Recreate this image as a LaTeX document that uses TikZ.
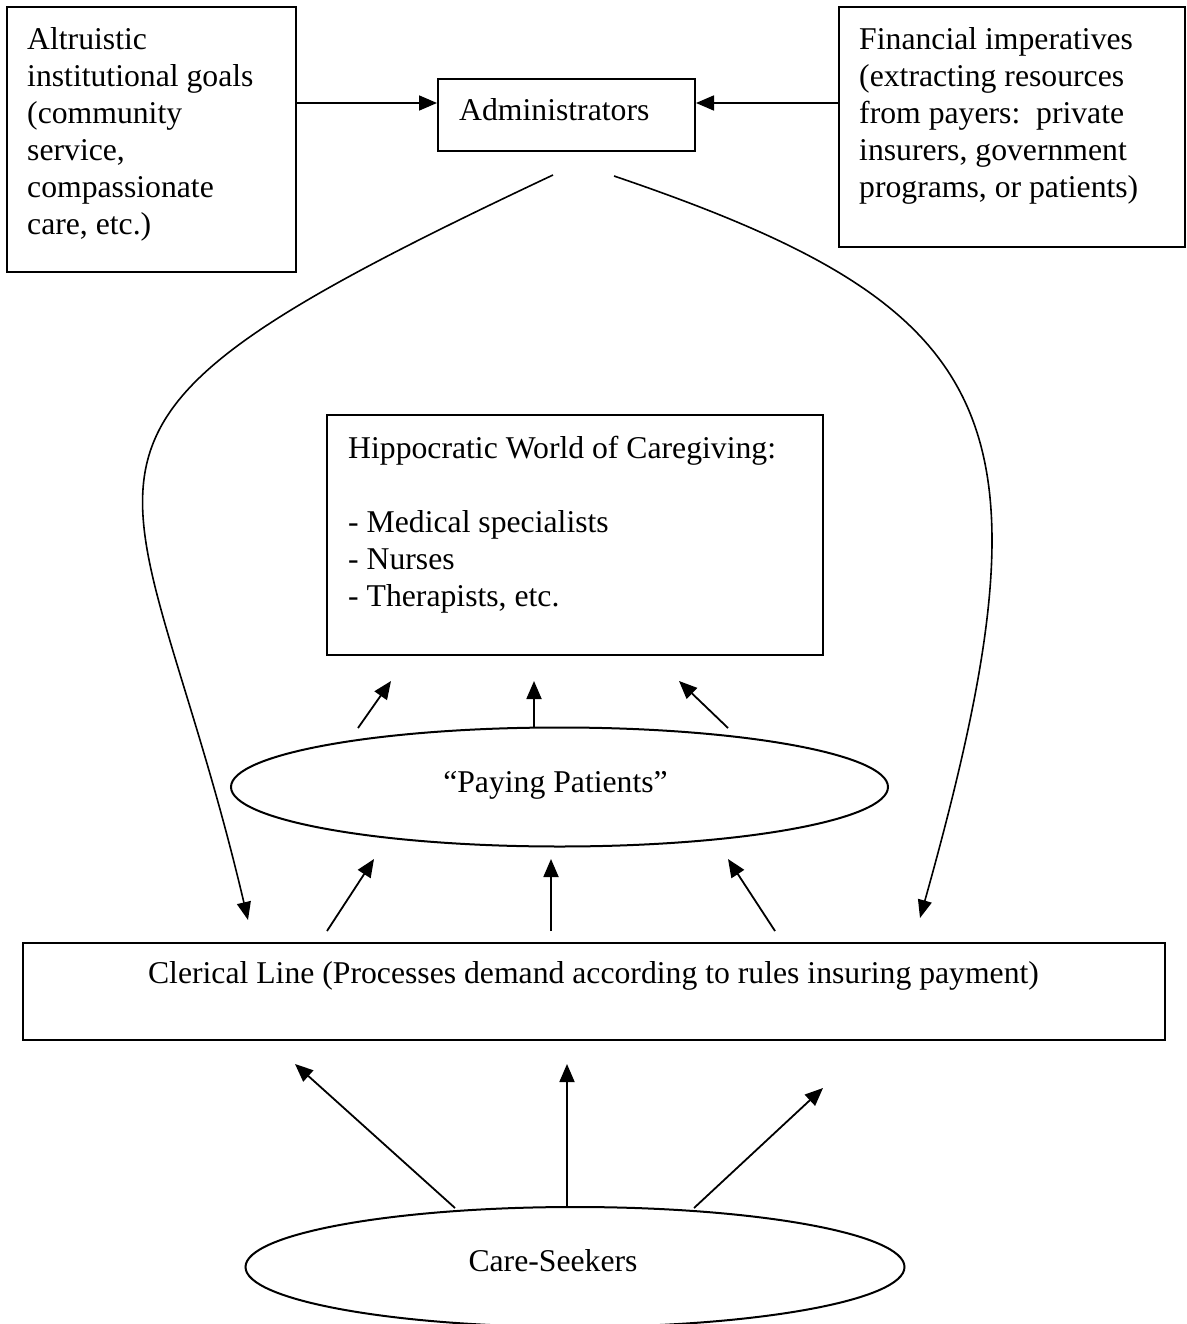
\documentclass[tikz,border=0pt]{standalone}
\usepackage{fontspec}
\setmainfont{Liberation Serif}
\usetikzlibrary{arrows.meta,shapes.geometric}
\newcommand{\diafont}{\fontsize{31.7pt}{37pt}\selectfont}
\begin{document}
\begin{tikzpicture}[x=1pt,y=-1pt,
  boxnode/.style={draw, rectangle, line width=2pt, inner sep=0pt},
  ovalnode/.style={draw, ellipse, line width=2pt, inner sep=0pt},
  lbl/.style={inner sep=0pt, font=\diafont, align=left},
  arr/.style={-{Triangle[length=18pt,width=15pt]}, line width=1.8pt},
  curvearr/.style={-{Triangle[length=18pt,width=14pt]}, line width=1.6pt}]
\useasboundingbox (0,0) rectangle (1186,1324);
\begin{scope}
\clip (0,0) rectangle (1186,1324);
% boxes
\node[boxnode, minimum width=289pt, minimum height=265pt] (alt) at (151.5,139.5) {};
\node[boxnode, minimum width=257pt, minimum height=72pt] (adm) at (566.5,115) {};
\node[boxnode, minimum width=345.5pt, minimum height=240pt] (fin) at (1011.75,127) {};
\node[boxnode, minimum width=496pt, minimum height=240pt] (hip) at (575,535) {};
\node[boxnode, minimum width=1142pt, minimum height=97pt] (cler) at (594,991.5) {};
\node[ovalnode, minimum width=657pt, minimum height=119pt] (pp) at (559.5,787) {};
\node[ovalnode, minimum width=659pt, minimum height=120pt] (cs) at (575,1267) {};
\end{scope}
% texts
\node[lbl, anchor=north west] (altT) at (27,27.3) {Altruistic\\institutional goals\\(community\\service,\\compassionate\\care, etc.)};
\node[lbl, anchor=base west] (admT) at (459,121) {Administrators};
\node[lbl, anchor=north west] (finT) at (859,27.3) {Financial imperatives\\(extracting resources\\from payers:\ \ private\\insurers, government\\programs, or patients)};
\node[lbl, anchor=north west] (hipT) at (348,435.5) {Hippocratic World of Caregiving:\\[37pt]- Medical specialists\\- Nurses\\- Therapists, etc.};
\node[lbl, anchor=base] (clerT) at (593.5,983) {Clerical Line (Processes demand according to rules insuring payment)};
\node[lbl, anchor=base] (ppT) at (555.5,792) {``Paying Patients''};
\node[lbl, anchor=base] (csT) at (553,1271) {Care-Seekers};
% horizontal arrows into Administrators
\coordinate (hA) at (0,103);
\draw[arr] (hA -| alt.east) -- (hA -| adm.west);
\draw[arr] (hA -| fin.west) -- (hA -| adm.east);
% curved arrows from Administrators to Clerical Line
\coordinate (c1a) at (553,175);
\coordinate (c1b) at (248,920);
\coordinate (c2a) at (614,176);
\coordinate (c2b) at (920,918);
\draw[curvearr] (c1a) .. controls (-10,440) and (135,440) .. (c1b);
\draw[curvearr] (c2a) .. controls (1008,310) and (1060,419) .. (c2b);
% Paying Patients -> Hippocratic
\coordinate (p1a) at (358,728); \coordinate (p1b) at (391,681);
\coordinate (p2a) at (534,728); \coordinate (p2b) at (534,681);
\coordinate (p3a) at (728,728); \coordinate (p3b) at (679,681);
\draw[arr] (p1a) -- (p1b);
\draw[arr] (p2a) -- (p2b);
\draw[arr] (p3a) -- (p3b);
% Clerical -> Paying Patients
\coordinate (k1a) at (327,931); \coordinate (k1b) at (374,859);
\coordinate (k2a) at (551,931); \coordinate (k2b) at (551,859);
\coordinate (k3a) at (775,931); \coordinate (k3b) at (728,859);
\draw[arr] (k1a) -- (k1b);
\draw[arr] (k2a) -- (k2b);
\draw[arr] (k3a) -- (k3b);
% Care-Seekers -> Clerical
\coordinate (s1a) at (455,1208); \coordinate (s1b) at (295,1064);
\coordinate (s2b) at (567,1064);
\coordinate (s3a) at (694,1208); \coordinate (s3b) at (823,1088);
\draw[arr] (s1a) -- (s1b);
\draw[arr] (s2b |- cs.north) -- (s2b);
\draw[arr] (s3a) -- (s3b);
\end{tikzpicture}
\end{document}
